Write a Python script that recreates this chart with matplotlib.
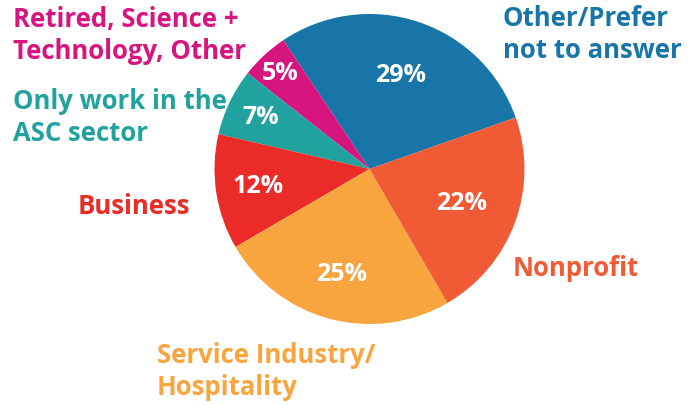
import numpy as np
import matplotlib.pyplot as plt

# data, counterclockwise from the blue wedge
categories = ['Other/Prefer\nnot to answer', 'Retired, Science +\nTechnology, Other',
              'Only work in the\nASC sector', 'Business',
              'Service Industry/\nHospitality', 'Nonprofit']
shares = [29, 5, 7, 12, 25, 22]
colors = ['#1775a8', '#d6157f', '#21a29e', '#ea2b27', '#f8a43f', '#f05a35']

# where the percent sits along each wedge radius (fraction of radius)
pct_r = [0.64, 0.85, 0.78, 0.73, 0.70, 0.63]
# label anchors (pixel coords, y from top) and vertical alignment
label_pos = [(503, 5, 'top'), (13, 6, 'top'), (13, 88, 'top'),
             (78, 207, 'center'), (157, 342, 'top'), (513, 268, 'center')]

W, H = 700, 406
fig = plt.figure(figsize=(7, 4.06), dpi=100)
ax = fig.add_axes([0, 0, 1, 1])

cx, cy, R = 369.5, H - 170, 155
wedges, _ = ax.pie(shares, colors=colors, startangle=19.4, counterclock=True,
                   center=(cx, cy), radius=R, frame=True,
                   wedgeprops=dict(linewidth=0))
ax.set_xlim(0, W)
ax.set_ylim(0, H)
ax.set_aspect('equal')
ax.axis('off')

font = 'Open Sans'
for w, s, f in zip(wedges, shares, pct_r):
    ang = np.deg2rad((w.theta1 + w.theta2) / 2)
    ax.text(cx + f * R * np.cos(ang), cy + f * R * np.sin(ang), f'{s}%',
            ha='center', va='center', color='white', fontsize=18,
            fontweight='bold', family=font)

for lab, c, (x, y, va) in zip(categories, colors, label_pos):
    ax.text(x, H - y, lab, ha='left', va=va, color=c, fontsize=18.5,
            fontweight='bold', family=font, linespacing=1.22)

fig.savefig('out.png', dpi=100)
